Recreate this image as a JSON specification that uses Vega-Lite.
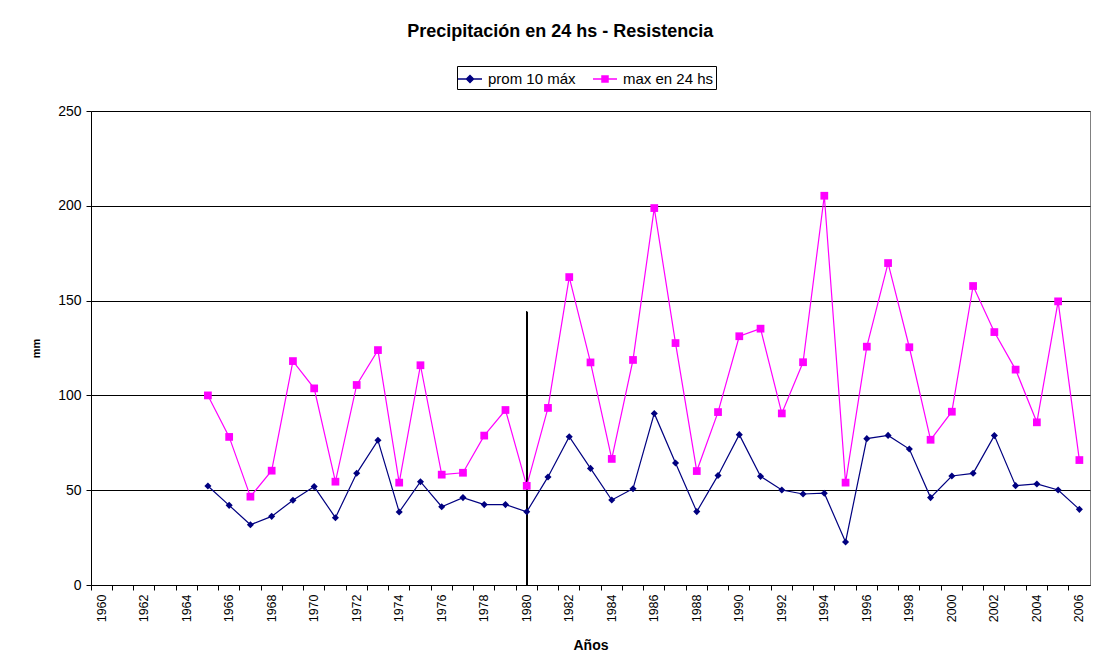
{
  "$schema": "https://vega.github.io/schema/vega-lite/v6.json",
  "width": 999,
  "height": 474,
  "autosize": {"type": "none"},
  "padding": {"left": 91, "top": 111, "right": 30, "bottom": 83},
  "background": "white",
  "title": {
    "text": "Precipitación en 24 hs - Resistencia",
    "anchor": "middle",
    "frame": "bounds",
    "font": "Liberation Sans",
    "fontSize": 18,
    "fontWeight": "bold",
    "color": "black",
    "offset": 25
  },
  "config": {
    "font": "Liberation Sans",
    "view": {"stroke": "#808080", "strokeWidth": 1},
    "legend": {
      "orient": "none",
      "legendX": 366,
      "legendY": -45,
      "direction": "horizontal",
      "strokeColor": "black",
      "fillColor": "white",
      "padding": 2,
      "labelFont": "Liberation Sans",
      "labelFontSize": 15,
      "labelColor": "black",
      "labelOffset": 7,
      "columnPadding": 14,
      "symbolSize": 400,
      "symbolStrokeWidth": 1.5,
      "symbolOpacity": 1
    }
  },
  "data": {
    "values": [
      {"Year": 1965, "serie": "prom 10 máx", "mm": 52.2},
      {"Year": 1966, "serie": "prom 10 máx", "mm": 42.0},
      {"Year": 1967, "serie": "prom 10 máx", "mm": 31.8},
      {"Year": 1968, "serie": "prom 10 máx", "mm": 36.2},
      {"Year": 1969, "serie": "prom 10 máx", "mm": 44.7},
      {"Year": 1970, "serie": "prom 10 máx", "mm": 51.9},
      {"Year": 1971, "serie": "prom 10 máx", "mm": 35.5},
      {"Year": 1972, "serie": "prom 10 máx", "mm": 58.9},
      {"Year": 1973, "serie": "prom 10 máx", "mm": 76.3},
      {"Year": 1974, "serie": "prom 10 máx", "mm": 38.5},
      {"Year": 1975, "serie": "prom 10 máx", "mm": 54.5},
      {"Year": 1976, "serie": "prom 10 máx", "mm": 41.3},
      {"Year": 1977, "serie": "prom 10 máx", "mm": 46.1},
      {"Year": 1978, "serie": "prom 10 máx", "mm": 42.4},
      {"Year": 1979, "serie": "prom 10 máx", "mm": 42.4},
      {"Year": 1980, "serie": "prom 10 máx", "mm": 38.6},
      {"Year": 1981, "serie": "prom 10 máx", "mm": 57.0},
      {"Year": 1982, "serie": "prom 10 máx", "mm": 78.2},
      {"Year": 1983, "serie": "prom 10 máx", "mm": 61.5},
      {"Year": 1984, "serie": "prom 10 máx", "mm": 44.8},
      {"Year": 1985, "serie": "prom 10 máx", "mm": 50.8},
      {"Year": 1986, "serie": "prom 10 máx", "mm": 90.5},
      {"Year": 1987, "serie": "prom 10 máx", "mm": 64.3},
      {"Year": 1988, "serie": "prom 10 máx", "mm": 38.7},
      {"Year": 1989, "serie": "prom 10 máx", "mm": 57.8},
      {"Year": 1990, "serie": "prom 10 máx", "mm": 79.3},
      {"Year": 1991, "serie": "prom 10 máx", "mm": 57.3},
      {"Year": 1992, "serie": "prom 10 máx", "mm": 50.1},
      {"Year": 1993, "serie": "prom 10 máx", "mm": 48.0},
      {"Year": 1994, "serie": "prom 10 máx", "mm": 48.4},
      {"Year": 1995, "serie": "prom 10 máx", "mm": 22.7},
      {"Year": 1996, "serie": "prom 10 máx", "mm": 77.2},
      {"Year": 1997, "serie": "prom 10 máx", "mm": 78.9},
      {"Year": 1998, "serie": "prom 10 máx", "mm": 71.7},
      {"Year": 1999, "serie": "prom 10 máx", "mm": 46.1},
      {"Year": 2000, "serie": "prom 10 máx", "mm": 57.5},
      {"Year": 2001, "serie": "prom 10 máx", "mm": 58.9},
      {"Year": 2002, "serie": "prom 10 máx", "mm": 78.8},
      {"Year": 2003, "serie": "prom 10 máx", "mm": 52.4},
      {"Year": 2004, "serie": "prom 10 máx", "mm": 53.3},
      {"Year": 2005, "serie": "prom 10 máx", "mm": 50.1},
      {"Year": 2006, "serie": "prom 10 máx", "mm": 39.9},
      {"Year": 1965, "serie": "max en 24 hs", "mm": 100.0},
      {"Year": 1966, "serie": "max en 24 hs", "mm": 78.1},
      {"Year": 1967, "serie": "max en 24 hs", "mm": 46.6},
      {"Year": 1968, "serie": "max en 24 hs", "mm": 60.3},
      {"Year": 1969, "serie": "max en 24 hs", "mm": 118.1},
      {"Year": 1970, "serie": "max en 24 hs", "mm": 103.7},
      {"Year": 1971, "serie": "max en 24 hs", "mm": 54.5},
      {"Year": 1972, "serie": "max en 24 hs", "mm": 105.5},
      {"Year": 1973, "serie": "max en 24 hs", "mm": 123.9},
      {"Year": 1974, "serie": "max en 24 hs", "mm": 54.0},
      {"Year": 1975, "serie": "max en 24 hs", "mm": 115.9},
      {"Year": 1976, "serie": "max en 24 hs", "mm": 58.2},
      {"Year": 1977, "serie": "max en 24 hs", "mm": 59.2},
      {"Year": 1978, "serie": "max en 24 hs", "mm": 78.8},
      {"Year": 1979, "serie": "max en 24 hs", "mm": 92.3},
      {"Year": 1980, "serie": "max en 24 hs", "mm": 52.3},
      {"Year": 1981, "serie": "max en 24 hs", "mm": 93.4},
      {"Year": 1982, "serie": "max en 24 hs", "mm": 162.4},
      {"Year": 1983, "serie": "max en 24 hs", "mm": 117.4},
      {"Year": 1984, "serie": "max en 24 hs", "mm": 66.5},
      {"Year": 1985, "serie": "max en 24 hs", "mm": 118.7},
      {"Year": 1986, "serie": "max en 24 hs", "mm": 198.8},
      {"Year": 1987, "serie": "max en 24 hs", "mm": 127.6},
      {"Year": 1988, "serie": "max en 24 hs", "mm": 60.1},
      {"Year": 1989, "serie": "max en 24 hs", "mm": 91.2},
      {"Year": 1990, "serie": "max en 24 hs", "mm": 131.2},
      {"Year": 1991, "serie": "max en 24 hs", "mm": 135.2},
      {"Year": 1992, "serie": "max en 24 hs", "mm": 90.5},
      {"Year": 1993, "serie": "max en 24 hs", "mm": 117.5},
      {"Year": 1994, "serie": "max en 24 hs", "mm": 205.3},
      {"Year": 1995, "serie": "max en 24 hs", "mm": 54.0},
      {"Year": 1996, "serie": "max en 24 hs", "mm": 125.7},
      {"Year": 1997, "serie": "max en 24 hs", "mm": 169.8},
      {"Year": 1998, "serie": "max en 24 hs", "mm": 125.4},
      {"Year": 1999, "serie": "max en 24 hs", "mm": 76.6},
      {"Year": 2000, "serie": "max en 24 hs", "mm": 91.4},
      {"Year": 2001, "serie": "max en 24 hs", "mm": 157.7},
      {"Year": 2002, "serie": "max en 24 hs", "mm": 133.4},
      {"Year": 2003, "serie": "max en 24 hs", "mm": 113.6},
      {"Year": 2004, "serie": "max en 24 hs", "mm": 85.8},
      {"Year": 2005, "serie": "max en 24 hs", "mm": 149.6},
      {"Year": 2006, "serie": "max en 24 hs", "mm": 65.9}
    ]
  },
  "encoding": {
    "x": {
      "field": "Year",
      "type": "ordinal",
      "scale": {
        "type": "band",
        "paddingInner": 0,
        "paddingOuter": 0,
        "domain": [1960,1961,1962,1963,1964,1965,1966,1967,1968,1969,1970,1971,1972,1973,1974,1975,1976,1977,1978,1979,1980,1981,1982,1983,1984,1985,1986,1987,1988,1989,1990,1991,1992,1993,1994,1995,1996,1997,1998,1999,2000,2001,2002,2003,2004,2005,2006]
      },
      "axis": {
        "title": "Años",
        "titleFont": "Liberation Sans",
        "titleFontSize": 14,
        "titleFontWeight": "bold",
        "titleColor": "black",
        "titlePadding": 17,
        "labelFont": "Liberation Sans",
        "labelFontSize": 12.5,
        "labelColor": "black",
        "labelAngle": -90,
        "labelPadding": 4,
        "labelExpr": "datum.value % 2 === 0 ? datum.label : ''",
        "bandPosition": 0,
        "tickSize": 5,
        "tickColor": "black",
        "domainColor": "black",
        "grid": false
      }
    }
  },
  "layer": [
    {
      "mark": {"type": "rule", "color": "black", "strokeWidth": 1},
      "encoding": {
        "x": {"datum": 1980},
        "y": {"datum": 0, "type": "quantitative"},
        "y2": {"datum": 144}
      }
    },
    {
      "mark": {"type": "line", "strokeWidth": 1.2},
      "encoding": {
        "y": {
          "field": "mm",
          "type": "quantitative",
          "scale": {"domain": [0, 250], "nice": false},
          "axis": {
            "title": "mm",
            "titleFont": "Liberation Sans",
            "titleFontSize": 11,
            "titleFontWeight": "bold",
            "titleColor": "black",
            "titlePadding": 16,
            "values": [0, 50, 100, 150, 200, 250],
            "labelFont": "Liberation Sans",
            "labelFontSize": 14,
            "labelColor": "black",
            "labelPadding": 5,
            "tickSize": 5,
            "tickColor": "black",
            "domainColor": "black",
            "grid": true,
            "gridColor": "black",
            "gridWidth": 1,
            "gridOpacity": 1
          }
        },
        "color": {
          "field": "serie",
          "type": "nominal",
          "scale": {"domain": ["prom 10 máx", "max en 24 hs"], "range": ["#000080", "#FF00FF"]},
          "legend": {"title": null}
        },
        "detail": {"field": "serie"}
      }
    },
    {
      "transform": [{"filter": "datum.serie === 'prom 10 máx'"}],
      "mark": {"type": "point", "filled": true, "opacity": 1, "size": 50, "shape": "diamond"},
      "encoding": {
        "y": {"field": "mm", "type": "quantitative"},
        "color": {"field": "serie", "type": "nominal", "legend": {"title": null}}
      }
    },
    {
      "transform": [{"filter": "datum.serie === 'max en 24 hs'"}],
      "mark": {"type": "point", "filled": true, "opacity": 1, "size": 60, "shape": "square"},
      "encoding": {
        "y": {"field": "mm", "type": "quantitative"},
        "color": {"field": "serie", "type": "nominal", "legend": {"title": null}}
      }
    },
    {
      "mark": {"type": "point", "filled": true, "opacity": 0, "size": 4, "strokeWidth": 1.5},
      "encoding": {
        "y": {"field": "mm", "type": "quantitative"},
        "color": {"field": "serie", "type": "nominal", "legend": {"title": null}},
        "stroke": {
          "field": "serie",
          "type": "nominal",
          "scale": {"domain": ["prom 10 máx", "max en 24 hs"], "range": ["#000080", "#FF00FF"]},
          "legend": {"title": null}
        },
        "shape": {
          "field": "serie",
          "type": "nominal",
          "scale": {
            "domain": ["prom 10 máx", "max en 24 hs"],
            "range": ["M-1.2,0L1.2,0M0,-0.35L0.35,0L0,0.35L-0.35,0Z", "M-1.2,0L1.2,0M-0.3,-0.3L0.3,-0.3L0.3,0.3L-0.3,0.3Z"]
          },
          "legend": {"title": null}
        }
      }
    }
  ]
}
